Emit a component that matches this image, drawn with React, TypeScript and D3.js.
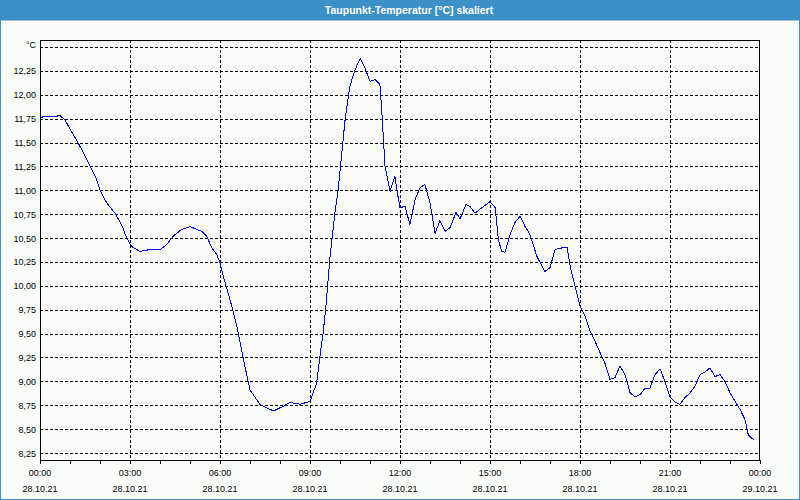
import React from 'react';
import * as d3 from 'd3';

// Taupunkt über den Tag, Stunden seit 00:00 am 28.10.21
const hours = [
  0, 0.1, 0.33, 0.67, 0.83, 1.0, 1.23, 1.45, 1.67, 1.89,
  2.0, 2.22, 2.5, 2.72, 2.89, 3.06, 3.33, 3.67, 4.0, 4.22,
  4.44, 4.72, 5.0, 5.39, 5.56, 5.72, 5.89, 6.0, 6.11, 6.33,
  6.56, 6.78, 7.0, 7.33, 7.78, 8.11, 8.33, 8.67, 9.0, 9.22,
  9.33, 9.44, 9.53, 9.67, 9.83, 9.94, 10.06, 10.17, 10.33, 10.5,
  10.67, 10.83, 11.0, 11.17, 11.33, 11.39, 11.5, 11.67, 11.83, 11.89,
  12.0, 12.17, 12.33, 12.5, 12.67, 12.83, 13.0, 13.17, 13.33, 13.5,
  13.67, 13.87, 14.0, 14.2, 14.33, 14.5, 14.78, 15.0, 15.17, 15.28,
  15.39, 15.5, 15.67, 15.83, 16.0, 16.17, 16.33, 16.56, 16.83, 17.0,
  17.17, 17.44, 17.57, 17.67, 17.83, 18.0, 18.17, 18.33, 18.5, 18.67,
  18.83, 19.0, 19.17, 19.33, 19.5, 19.67, 19.83, 20.0, 20.17, 20.33,
  20.5, 20.67, 20.83, 21.0, 21.17, 21.33, 21.5, 21.67, 21.83, 22.0,
  22.17, 22.33, 22.5, 22.67, 22.83, 23.0, 23.17, 23.33, 23.5, 23.61,
  23.78,
];

const dewpoint = [
  11.75, 11.77, 11.77, 11.78, 11.74, 11.64, 11.52, 11.39, 11.25, 11.11,
  11.0, 10.87, 10.76, 10.64, 10.5, 10.41, 10.36, 10.38, 10.38, 10.43,
  10.52, 10.59, 10.62, 10.57, 10.52, 10.4, 10.33, 10.24, 10.1, 9.86,
  9.58, 9.23, 8.91, 8.76, 8.69, 8.74, 8.78, 8.76, 8.79, 8.98,
  9.26, 9.51, 9.79, 10.31, 10.76, 11.01, 11.39, 11.74, 12.09, 12.26,
  12.38, 12.28, 12.14, 12.16, 12.11, 11.85, 11.25, 10.99, 11.15, 11.01,
  10.82, 10.83, 10.64, 10.9, 11.03, 11.06, 10.87, 10.55, 10.68, 10.57,
  10.61, 10.77, 10.7, 10.85, 10.83, 10.76, 10.83, 10.88, 10.82, 10.48,
  10.36, 10.35, 10.54, 10.66, 10.73, 10.62, 10.54, 10.31, 10.15, 10.19,
  10.38, 10.4, 10.4, 10.21, 10.0, 9.79, 9.68, 9.53, 9.42, 9.3,
  9.19, 9.02, 9.04, 9.16, 9.07, 8.88, 8.84, 8.86, 8.93, 8.93,
  9.07, 9.13, 9.0, 8.84, 8.78, 8.76, 8.83, 8.88, 8.95, 9.07,
  9.1, 9.14, 9.05, 9.07, 9.0, 8.88, 8.79, 8.71, 8.6, 8.44,
  8.39,
];

const timeLabels = ['00:00', '03:00', '06:00', '09:00', '12:00', '15:00', '18:00', '21:00', '00:00'];
const dateLabels = ['28.10.21', '28.10.21', '28.10.21', '28.10.21', '28.10.21', '28.10.21', '28.10.21', '28.10.21', '29.10.21'];
const yTicks = [8.25, 8.5, 8.75, 9.0, 9.25, 9.5, 9.75, 10.0, 10.25, 10.5, 10.75, 11.0, 11.25, 11.5, 11.75, 12.0, 12.25, 12.5];

const title = 'Taupunkt-Temperatur [°C] skaliert';

// layout
const W = 800;
const H = 500;
const plot = { left: 40, right: 760, top: 40, bottom: 460 };
const font = '"Liberation Sans", Arial, sans-serif';

const App = () => {
  const x = d3.scaleLinear().domain([0, 24]).range([plot.left, plot.right]);
  const y = d3.scaleLinear().domain([8.177, 12.573]).range([plot.bottom, plot.top]);

  const line = d3.line<number>()
    .x((_, i) => x(hours[i]))
    .y(d => y(d));

  const hourTicks = d3.range(0, 25, 1);
  const majorTicks = d3.range(0, 25, 3);
  const fmt = (v: number) => v.toFixed(2).replace('.', ',');
  const px = (v: number) => Math.round(v) + 0.5;

  return (
    <svg width={W} height={H} style={{ position: 'absolute', left: 0, top: 0 }} fontFamily={font}>
      <rect x={0} y={0} width={W} height={H} fill="#fbfdfb" />
      {/* title bar */}
      <rect x={0} y={0} width={W} height={20} fill="#3d90c7" />
      <text x={409} y={14} textAnchor="middle" fill="#ffffff" fontSize={10.5} fontWeight="bold">{title}</text>
      {/* window frame */}
      <rect x={0.5} y={20} width={W - 1} height={H - 20.5} fill="none" stroke="#3d90c7" />

      {/* horizontal grid */}
      <g shapeRendering="crispEdges">
        {yTicks.map(t => (
          <line key={'h' + t} x1={plot.left} x2={plot.right} y1={px(y(t))} y2={px(y(t))}
            stroke="#000" strokeDasharray="3,2" />
        ))}
        {majorTicks.slice(1, -1).map(t => (
          <line key={'v' + t} x1={px(x(t))} x2={px(x(t))} y1={plot.top} y2={plot.bottom}
            stroke="#000" strokeDasharray="3,2" />
        ))}
        <rect x={plot.left + 0.5} y={plot.top + 0.5} width={plot.right - plot.left - 1}
          height={plot.bottom - plot.top} fill="none" stroke="#000" />
        {hourTicks.map(t => (
          <line key={'t' + t} x1={px(x(t))} x2={px(x(t))} y1={plot.bottom} y2={plot.bottom + 4} stroke="#000" />
        ))}
      </g>

      {/* y labels */}
      {yTicks.map(t => (
        <text key={'yl' + t} x={36} y={t === 12.5 ? y(t) + 1 : y(t) + 3.5} textAnchor="end" fontSize={9} fill="#000">
          {t === 12.5 ? '°C' : fmt(t)}
        </text>
      ))}

      {/* x labels */}
      {majorTicks.map((t, i) => (
        <g key={'xl' + t} fontSize={9} fill="#000" textAnchor="middle">
          <text x={x(t)} y={476}>{timeLabels[i]}</text>
          <text x={x(t)} y={492}>{dateLabels[i]}</text>
        </g>
      ))}

      {/* data */}
      <path d={line(dewpoint) || ''} fill="none" stroke="#0000ff" strokeWidth={1} shapeRendering="crispEdges" />
    </svg>
  );
};

export default App;
